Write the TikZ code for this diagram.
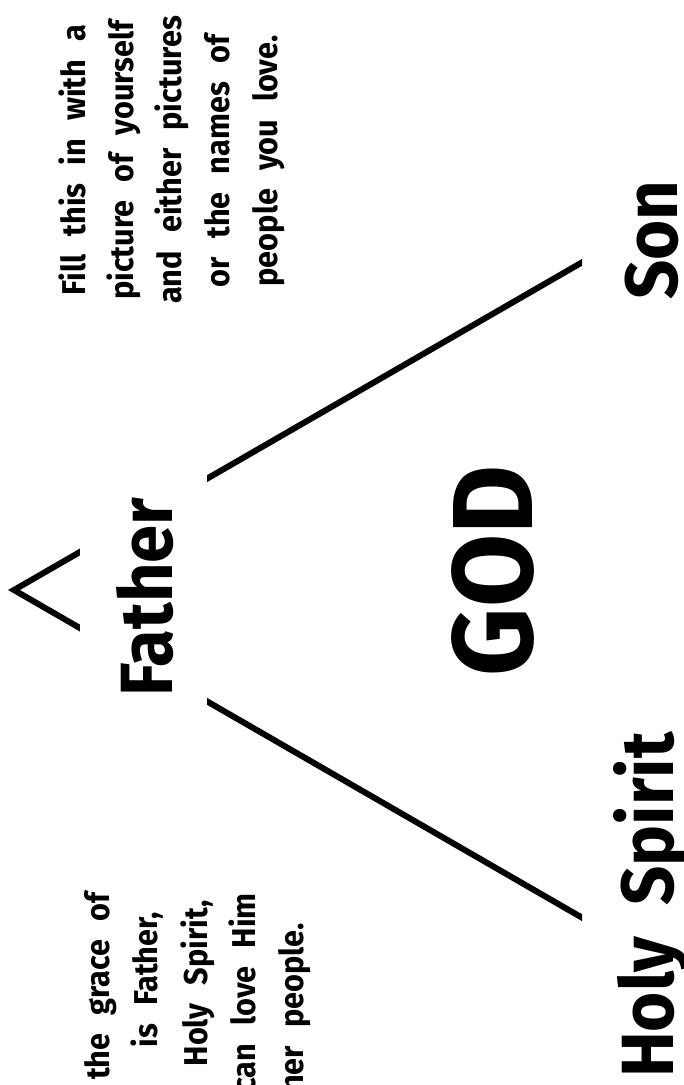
\documentclass[tikz,border=0pt]{standalone}
\usepackage{fontspec}
\setmainfont{Fira Sans}
\newfontfamily\labelfont{Fira Sans}[FakeStretch=0.93]
\newcommand\bigstyle{\labelfont\bfseries\fontsize{74}{74}\selectfont\spaceskip=0.42em\relax}
\newcommand\godstyle{\labelfont\bfseries\fontsize{114}{114}\selectfont}
\newcommand\notestyle{\labelfont\bfseries\fontsize{33}{33}\selectfont\spaceskip=0.55em\relax}
\begin{document}
\begin{tikzpicture}[x=1pt,y=-1pt]
\tikzset{
  big/.style={font=\bigstyle, rotate=90, anchor=base, inner sep=0pt},
  godlabel/.style={font=\godstyle, rotate=90, anchor=base, inner sep=0pt},
  note/.style={font=\notestyle, rotate=90, inner sep=0pt},
  arm/.style={line width=6pt, line join=miter},
}
\fill[white] (0,0) rectangle (684,1085);
\useasboundingbox (0,0) rectangle (684,1085);
% triangle corners
\coordinate (apex) at (14,590);
\coordinate (sonend) at (600,252);
\coordinate (hsend) at (600,928);
\begin{scope}
  \clip (0,0) rectangle (582,1085);
  \draw[arm] (sonend) -- (apex) -- (hsend);
\end{scope}
% gap left by the Father label
\fill[white] (80,400) rectangle (207,780);
% labels
\node[big] (father) at (172,597) {Father};
\node[big] (son) at (677,240) {Son};
\node[big] (spirit) at (673,905) {Holy Spirit};
\node[godlabel] (god) at (532,571) {GOD};
% top right note
\node[note, anchor=base] (n1) at (85,160) {Fill this in with a};
\node[note, anchor=base] (n2) at (133,160) {picture of yourself};
\node[note, anchor=base] (n3) at (181,160) {and either pictures};
\node[note, anchor=base] (n4) at (229,161) {or the names of};
\node[note, anchor=base] (n5) at (277,161) {people you love.};
% bottom left note (runs off the page)
\begin{scope}
  \clip (0,0) rectangle (684,1085);
  \node[note, anchor=base east] (m1) at (109,892) {the grace of};
  \node[note, anchor=base east] (m2) at (157,912) {is Father,};
  \node[note, anchor=base east] (m3) at (207,900) {Holy Spirit,};
  \node[note, anchor=base east] (m4) at (255,893) {can love Him};
  \node[note, anchor=base east] (m5) at (303,923) {her people.};
\end{scope}
\end{tikzpicture}
\end{document}
